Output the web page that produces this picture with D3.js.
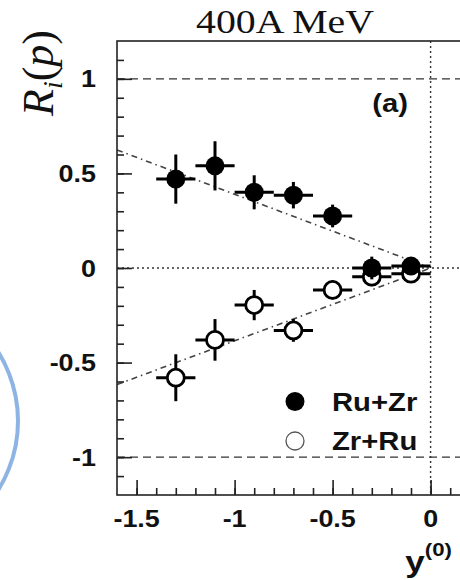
<!DOCTYPE html>
<html>
<head>
<meta charset="utf-8">
<script src="https://cdn.jsdelivr.net/npm/d3@7"></script>
<style>
  body { margin: 0; background: #fff; }
  svg { display: block; }
  .lbl { font-family: "Liberation Sans", Arial, sans-serif; font-weight: bold; fill: #111; }
  .serif { font-family: "Liberation Serif", "Times New Roman", serif; fill: #111; }
</style>
</head>
<body>
<div id="chart"></div>
<script>
// rapidity bins (centre) and half width
var binCentres = [-1.3, -1.1, -0.9, -0.7, -0.5, -0.3, -0.1];
var binHalfWidth = 0.1;

// Ru+Zr (filled) and Zr+Ru (open) ratios with errors
var ruzrValues = [0.47, 0.54, 0.40, 0.385, 0.275, 0.00, 0.01];
var ruzrErrors = [0.13, 0.13, 0.09, 0.07, 0.06, 0.06, 0.04];
var zrruValues = [-0.58, -0.38, -0.196, -0.33, -0.116, -0.046, -0.03];
var zrruErrors = [0.124, 0.11, 0.08, 0.06, 0.05, 0.05, 0.03];

// linear fits through the origin
var fitSlopes = [-0.39, 0.385];
var fitRange = [-1.6, 0];

var yTickLabels = [1, 0.5, 0, -0.5, -1];
var xTickLabels = [-1.5, -1, -0.5, 0];

var svgWidth = 460;
var svgHeight = 580;
var stretch = 1.17; // wide glyphs

var svg = d3.select("#chart")
  .append("svg")
  .attr("width", svgWidth)
  .attr("height", svgHeight);

var x = d3.scaleLinear().domain([-1.6, 0.2]).range([117, 117 + 1.8 * 196]);
var y = d3.scaleLinear().domain([-1.2, 1.2]).range([495, 41]);

// decorative circle on the left
svg.append("circle")
  .attr("cx", -112)
  .attr("cy", 421)
  .attr("r", 130)
  .attr("fill", "none")
  .attr("stroke", "#8db4e3")
  .attr("stroke-width", 4);

// reference lines
svg.append("line")
  .attr("x1", x(-1.6)).attr("x2", x(0.2))
  .attr("y1", y(1)).attr("y2", y(1))
  .attr("stroke", "#333").attr("stroke-width", 1.2)
  .attr("stroke-dasharray", "8,5");
svg.append("line")
  .attr("x1", x(-1.6)).attr("x2", x(0.2))
  .attr("y1", y(-1)).attr("y2", y(-1))
  .attr("stroke", "#333").attr("stroke-width", 1.2)
  .attr("stroke-dasharray", "8,5");
svg.append("line")
  .attr("x1", x(-1.6)).attr("x2", x(0.2))
  .attr("y1", y(0)).attr("y2", y(0))
  .attr("stroke", "#333").attr("stroke-width", 1.4)
  .attr("stroke-dasharray", "2,3");
svg.append("line")
  .attr("x1", x(0)).attr("x2", x(0))
  .attr("y1", y(1.2)).attr("y2", y(-1.2))
  .attr("stroke", "#333").attr("stroke-width", 1.4)
  .attr("stroke-dasharray", "2,3");

// dash-dot fit lines
fitSlopes.forEach(function(k) {
  svg.append("line")
    .attr("x1", x(fitRange[0])).attr("y1", y(k * fitRange[0]))
    .attr("x2", x(fitRange[1])).attr("y2", y(k * fitRange[1]))
    .attr("stroke", "#444").attr("stroke-width", 1.6)
    .attr("stroke-dasharray", "6,4,1.5,4");
});

// frame
svg.append("rect")
  .attr("x", x(-1.6)).attr("y", y(1.2))
  .attr("width", x(0.2) - x(-1.6)).attr("height", y(-1.2) - y(1.2))
  .attr("fill", "none").attr("stroke", "#222").attr("stroke-width", 1.6);

// ticks pointing into the frame
function tickAxis(axis, transform) {
  var g = svg.append("g").attr("transform", transform).call(axis);
  g.select(".domain").remove();
  g.selectAll("line").attr("stroke", "#222").attr("stroke-width", 1.6);
  g.selectAll("text").remove();
}
var yMinor = d3.range(-11, 12).map(function(i) { return i / 10; });
var xMinor = d3.range(-15, 2).map(function(i) { return i / 10; });
tickAxis(d3.axisLeft(y).tickValues(yMinor).tickSize(-7), "translate(" + x(-1.6) + ",0)");
tickAxis(d3.axisLeft(y).tickValues(yTickLabels).tickSize(-15), "translate(" + x(-1.6) + ",0)");
tickAxis(d3.axisBottom(x).tickValues(xMinor).tickSize(-7), "translate(0," + y(-1.2) + ")");
tickAxis(d3.axisBottom(x).tickValues(xTickLabels).tickSize(-15), "translate(0," + y(-1.2) + ")");

function label(txt, px, py, size, anchor, cls) {
  return svg.append("text")
    .attr("class", cls || "lbl")
    .attr("transform", "translate(" + px + "," + py + ") scale(" + stretch + ",1)")
    .attr("text-anchor", anchor)
    .attr("font-size", size)
    .text(txt);
}

yTickLabels.forEach(function(v) {
  label(d3.format("")(v).replace("−", "-"), 96, y(v) + 8.5, 23, "end");
});
xTickLabels.forEach(function(v) {
  label(d3.format("")(v).replace("−", "-"), x(v), 527, 23, "middle");
});

// x axis title y^(0)
var xt = svg.append("text")
  .attr("class", "lbl")
  .attr("transform", "translate(452,572) scale(" + stretch + ",1)")
  .attr("text-anchor", "end")
  .attr("font-size", 30);
xt.append("tspan").text("y");
xt.append("tspan").attr("font-size", 19).attr("dy", -16).text("(0)");

// y axis title R_i(p)
var yt = svg.append("text")
  .attr("class", "serif")
  .attr("transform", "translate(53,73) rotate(-90)")
  .attr("text-anchor", "middle")
  .attr("font-size", 44);
yt.append("tspan").attr("font-style", "italic").text("R");
yt.append("tspan").attr("font-style", "italic").attr("font-size", 28).attr("dy", 9).text("i");
yt.append("tspan").attr("dy", -9).text("(");
yt.append("tspan").attr("font-style", "italic").text("p");
yt.append("tspan").text(")");

// energy title
label("400A MeV", 285, 33, 34, "middle", "serif");

label("(a)", 390, 112, 25, "middle");

// error bars and markers
function series(values, errors, filled) {
  var g = svg.append("g");
  var pts = binCentres.map(function(c, i) { return { x: c, y: values[i], e: errors[i] }; });
  g.selectAll(".hbar").data(pts).enter().append("line")
    .attr("x1", function(d) { return x(d.x - binHalfWidth); })
    .attr("x2", function(d) { return x(d.x + binHalfWidth); })
    .attr("y1", function(d) { return y(d.y); })
    .attr("y2", function(d) { return y(d.y); })
    .attr("stroke", "#000").attr("stroke-width", 3);
  g.selectAll(".vbar").data(pts).enter().append("line")
    .attr("x1", function(d) { return x(d.x); })
    .attr("x2", function(d) { return x(d.x); })
    .attr("y1", function(d) { return y(d.y - d.e); })
    .attr("y2", function(d) { return y(d.y + d.e); })
    .attr("stroke", "#000").attr("stroke-width", 3);
  g.selectAll("circle").data(pts).enter().append("circle")
    .attr("cx", function(d) { return x(d.x); })
    .attr("cy", function(d) { return y(d.y); })
    .attr("r", filled ? 9.5 : 8.5)
    .attr("fill", filled ? "#000" : "#fff")
    .attr("stroke", "#000")
    .attr("stroke-width", filled ? 0 : 2.8);
}
series(zrruValues, zrruErrors, false);
series(ruzrValues, ruzrErrors, true);

// legend
svg.append("circle").attr("cx", 295).attr("cy", 401.5).attr("r", 9.5).attr("fill", "#000");
svg.append("circle").attr("cx", 295).attr("cy", 441).attr("r", 9)
  .attr("fill", "#fff").attr("stroke", "#555").attr("stroke-width", 1.3);
label("Ru+Zr", 332, 410.5, 25, "start");
label("Zr+Ru", 332, 450, 25, "start");
</script>
</body>
</html>
